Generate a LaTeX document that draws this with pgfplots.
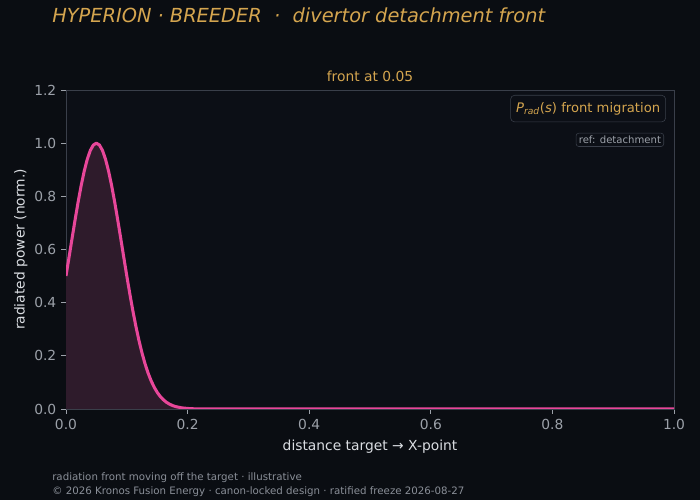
\documentclass[border=0pt]{standalone}
\usepackage{pgfplots}
\pgfplotsset{compat=1.18}
\usepackage{fontspec}
\setmainfont{DejaVu Sans}
\definecolor{figbg}{HTML}{0A0D12}
\definecolor{axbg}{HTML}{0C0F16}
\definecolor{spine}{HTML}{3A3F4A}
\definecolor{ticktxt}{HTML}{9CA1A9}
\definecolor{labtxt}{HTML}{DADDE2}
\definecolor{gold}{HTML}{D4A54F}
\definecolor{front}{HTML}{E8479A}
\definecolor{frontfill}{HTML}{2E1B2B}
\definecolor{foot}{HTML}{8A8F98}

\begin{document}
\begin{tikzpicture}[x=1in,y=1in]
\fill[figbg] (0,0) rectangle (7,5);

% titles
\node[anchor=base west, font=\fontsize{14}{16}\selectfont\itshape, text=gold, inner sep=0pt]
  at (0.52,4.77) {HYPERION · BREEDER \ · \ divertor detachment front};
\node[anchor=base, font=\fontsize{10}{12}\selectfont, text=gold, inner sep=0pt]
  at (3.70,4.18) {front at 0.05};

\begin{axis}[
    at={(0.66in,0.91in)}, anchor=south west,
    width=6.08in, height=3.19in, scale only axis,
    xmin=0, xmax=1, ymin=0, ymax=1.2,
    axis background/.style={fill=axbg},
    axis line style={spine},
    xtick={0,0.2,...,1.0}, ytick={0,0.2,...,1.2},
    tick align=outside, tick pos=left,
    major tick length=3.5pt,
    tick style={ticktxt, line width=0.6pt},
    ticklabel style={font=\fontsize{10}{12}\selectfont, text=ticktxt},
    /pgf/number format/assume math mode=true,
    /pgf/number format/.cd, fixed, fixed zerofill, precision=1, /pgfplots/.cd,
    xlabel={distance target → X-point},
    ylabel={radiated power (norm.)},
    label style={font=\fontsize{10}{12}\selectfont, text=labtxt},
    xlabel style={yshift=-1pt},
    ylabel style={yshift=-2pt},
]
\addplot[draw=none, fill=frontfill] coordinates {
(0,0) (0,0.5006) (0.005,0.5709) (0.01,0.6422) (0.015,0.7124) (0.02,0.7795)
(0.025,0.8411) (0.03,0.8952) (0.035,0.9396) (0.04,0.9727) (0.045,0.9931)
(0.05,1.0000) (0.055,0.9931) (0.06,0.9727) (0.065,0.9396) (0.07,0.8952)
(0.075,0.8411) (0.08,0.7795) (0.085,0.7124) (0.09,0.6422) (0.095,0.5709)
(0.1,0.5006) (0.105,0.4328) (0.11,0.3691) (0.115,0.3105) (0.12,0.2576)
(0.125,0.2108) (0.13,0.1701) (0.135,0.1353) (0.14,0.1062) (0.145,0.0822)
(0.15,0.0628) (0.155,0.0473) (0.16,0.0351) (0.165,0.0257) (0.17,0.0186)
(0.175,0.0132) (0.18,0.0093) (0.19,0.0044) (0.2,0.0020) (0.21,0.0008)
(0.22,0.0003) (0.23,0.0001) (0.25,0) (0.25,0)
} \closedcycle;
\addplot[front, line width=2.2pt, line join=round] coordinates {
(0,0.5006) (0.005,0.5709) (0.01,0.6422) (0.015,0.7124) (0.02,0.7795)
(0.025,0.8411) (0.03,0.8952) (0.035,0.9396) (0.04,0.9727) (0.045,0.9931)
(0.05,1.0000) (0.055,0.9931) (0.06,0.9727) (0.065,0.9396) (0.07,0.8952)
(0.075,0.8411) (0.08,0.7795) (0.085,0.7124) (0.09,0.6422) (0.095,0.5709)
(0.1,0.5006) (0.105,0.4328) (0.11,0.3691) (0.115,0.3105) (0.12,0.2576)
(0.125,0.2108) (0.13,0.1701) (0.135,0.1353) (0.14,0.1062) (0.145,0.0822)
(0.15,0.0628) (0.155,0.0473) (0.16,0.0351) (0.165,0.0257) (0.17,0.0186)
(0.175,0.0132) (0.18,0.0093) (0.19,0.0044) (0.2,0.0020) (0.21,0.0008)
(0.22,0.0003) (0.23,0.0001) (0.25,0) (0.4,0) (0.6,0) (0.8,0) (1.0,0)
};
\node[anchor=north east, draw=spine, rounded corners=3pt, fill=axbg,
      text=gold, font=\fontsize{9.5}{11}\selectfont, inner xsep=4pt, inner ysep=5pt]
  at ([xshift=-5.8pt,yshift=-3.6pt]rel axis cs:1,1)
  {\textit{P}\textsubscript{\textit{rad}}(\textit{s}) front migration};
\node[anchor=north east, draw=spine, rounded corners=2pt, fill=axbg,
      text=ticktxt, font=\fontsize{7.3}{8}\selectfont, inner sep=2pt]
  at ([xshift=-7.2pt,yshift=-31pt]rel axis cs:1,1) {ref: detachment};
\end{axis}

% footer
\node[anchor=base west, font=\fontsize{7.4}{9}\selectfont, text=foot, inner sep=0pt]
  at (0.52,0.20) {radiation front moving off the target · illustrative};
\node[anchor=base west, font=\fontsize{7.4}{9}\selectfont, text=foot, inner sep=0pt]
  at (0.52,0.06) {© 2026 Kronos Fusion Energy · canon-locked design · ratified freeze 2026-08-27};
\end{tikzpicture}
\end{document}
